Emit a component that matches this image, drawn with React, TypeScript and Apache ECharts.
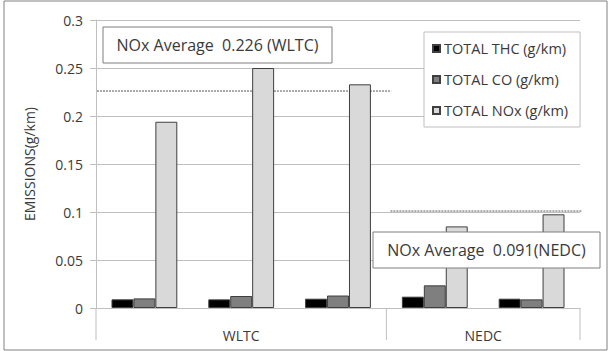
import React, { useEffect, useRef } from "react";
import * as echarts from "echarts";

const categories = ["W1", "W2", "W3", "N1", "N2"];
const cycleGroups = ["WLTC", "NEDC"];
const cycleGroupSizes = [3, 2];
const seriesNames = ["TOTAL THC (g/km)", "TOTAL CO (g/km)", "TOTAL NOx (g/km)"];
const thcValues = [0.009, 0.009, 0.0097, 0.0118, 0.0097];
const coValues = [0.010, 0.0125, 0.013, 0.0236, 0.009];
const noxValues = [0.194, 0.25, 0.233, 0.085, 0.0976];
const avgLineValues = [0.226, 0.101];
const avgLabels = ["NOx Average  0.226 (WLTC)", "NOx Average  0.091(NEDC)"];
const yTicks = [0, 0.05, 0.1, 0.15, 0.2, 0.25, 0.3];

const FONT = "Open Sans";
const TXT = "#3a3a3a";

export default function App() {
  const ref = useRef<HTMLDivElement>(null);
  useEffect(() => {
    const chart = echarts.init(ref.current!, null, { renderer: "svg" });
    const colors = ["#000000", "#7f7f7f", "#d9d9d9"];
    const values = [thcValues, coValues, noxValues];
    chart.setOption({
      animation: false,
      grid: { left: 96, right: 31, top: 20, bottom: 43, containLabel: false },
      legend: {
        orient: "vertical",
        left: 424,
        top: 32,
        width: 155,
        padding: [9, 12, 9, 8],
        itemWidth: 7,
        itemHeight: 7,
        itemGap: 16,
        icon: "rect",
        borderColor: "#bfbfbf",
        borderWidth: 1,
        backgroundColor: "#fff",
        textStyle: { fontFamily: FONT, fontSize: 14.5, color: TXT, padding: [0, 0, 0, -1] },
        data: seriesNames,
      },
      xAxis: {
        type: "category",
        data: categories,
        axisLine: { show: true, lineStyle: { color: "#bfbfbf" } },
        axisTick: { show: false },
        axisLabel: { show: false },
      },
      yAxis: {
        type: "value",
        min: yTicks[0],
        max: yTicks[yTicks.length - 1],
        interval: 0.05,
        axisLine: { show: true, lineStyle: { color: "#bfbfbf" } },
        axisTick: { show: true, length: 6, lineStyle: { color: "#bfbfbf" } },
        splitLine: { show: true, lineStyle: { color: "#bfbfbf" } },
        axisLabel: { fontFamily: FONT, fontSize: 14, color: TXT, margin: 13 },
        name: "EMISSIONS(g/km)",
        nameLocation: "middle",
        nameGap: 60,
        nameTextStyle: { fontFamily: FONT, fontSize: 14, color: TXT },
      },
      series: seriesNames.map((n, i) => ({
        name: n,
        type: "bar",
        data: values[i],
        barGap: "0%",
        barCategoryGap: "32%",
        itemStyle: { color: colors[i], borderColor: "#3f3f3f", borderWidth: 1 },
      })),
    });

    const p0 = chart.convertToPixel({ xAxisIndex: 0 }, 0) as number;
    const p1 = chart.convertToPixel({ xAxisIndex: 0 }, 1) as number;
    const band = p1 - p0;
    const left = p0 - band / 2;
    const y0 = chart.convertToPixel({ yAxisIndex: 0 }, 0) as number;
    const graphics: any[] = [];
    graphics.push({
      type: "rect",
      shape: { x: 4, y: 1, width: 603, height: 349 },
      style: { fill: "none", stroke: "#808080", lineWidth: 1 },
      silent: true,
      z: -1,
    });
    let start = 0;
    const bounds: number[] = [left];
    cycleGroupSizes.forEach((s, gi) => {
      const xs = left + start * band;
      const xe = left + (start + s) * band;
      bounds.push(xe);
      graphics.push({
        type: "text",
        x: (xs + xe) / 2,
        y: y0 + 27,
        style: {
          text: cycleGroups[gi],
          fontFamily: FONT,
          fontSize: 14,
          fill: TXT,
          align: "center",
          verticalAlign: "middle",
        },
      });
      start += s;
    });
    bounds.forEach((bx) => {
      graphics.push({
        type: "line",
        shape: { x1: bx, y1: y0, x2: bx, y2: y0 + 32 },
        style: { stroke: "#bfbfbf", lineWidth: 1 },
      });
    });
    const wy = chart.convertToPixel({ yAxisIndex: 0 }, avgLineValues[0]) as number;
    const ny = chart.convertToPixel({ yAxisIndex: 0 }, avgLineValues[1]) as number;
    graphics.push({
      type: "line",
      shape: { x1: left + 1, y1: wy, x2: left + 3.05 * band, y2: wy },
      style: { stroke: "#595959", lineWidth: 1, lineDash: [2, 1] },
    });
    graphics.push({
      type: "line",
      shape: { x1: left + 3 * band + 4, y1: ny, x2: left + 5 * band + 2, y2: ny },
      style: { stroke: "#595959", lineWidth: 1, lineDash: [2, 1] },
    });
    const boxes = [
      { x: 103, y: 27, w: 229, h: 36, t: avgLabels[0] },
      { x: 373, y: 232, w: 227, h: 36, t: avgLabels[1] },
    ];
    boxes.forEach((b) => {
      graphics.push({
        type: "rect",
        shape: { x: b.x, y: b.y, width: b.w, height: b.h },
        style: { fill: "#fff", stroke: "#7f7f7f", lineWidth: 1 },
        z: 100,
      });
      graphics.push({
        type: "text",
        x: b.x + b.w / 2,
        y: b.y + b.h / 2,
        style: {
          text: b.t,
          fontFamily: FONT,
          fontSize: 16,
          fill: TXT,
          align: "center",
          verticalAlign: "middle",
        },
        z: 101,
      });
    });
    chart.setOption({ graphic: graphics });
    return () => chart.dispose();
  }, []);
  return <div ref={ref} style={{ width: 611, height: 351, position: "absolute", left: 0, top: 0 }} />;
}
